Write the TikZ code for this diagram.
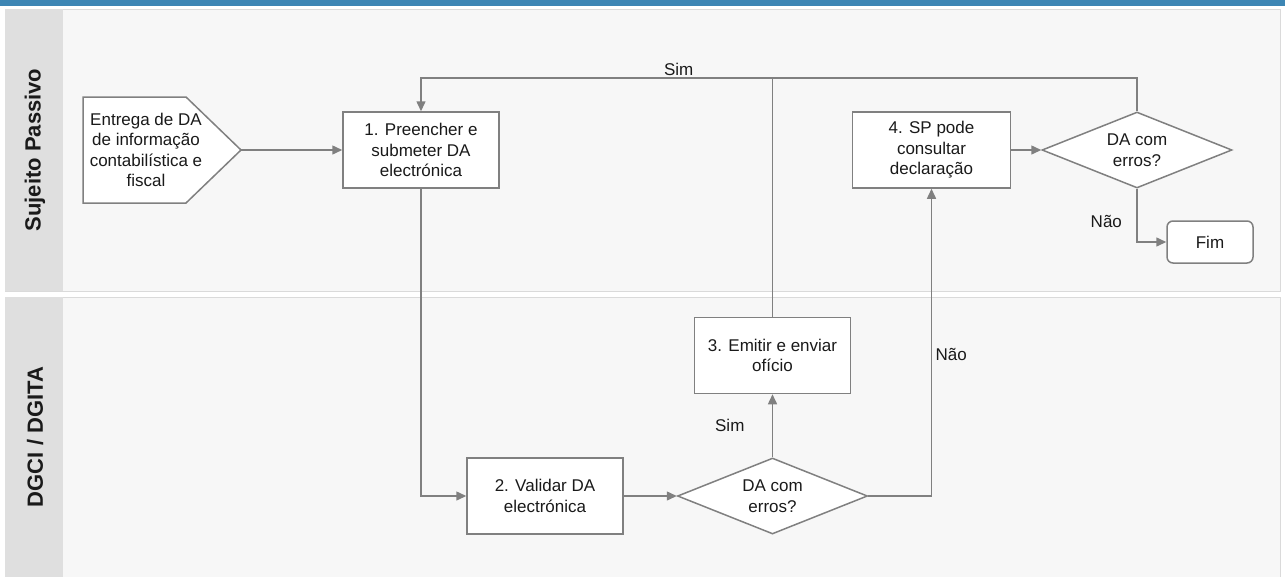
\documentclass[tikz,border=0pt]{standalone}
\usepackage{fontspec}
\setmainfont{Liberation Sans}
\usetikzlibrary{arrows.meta,positioning,shapes.geometric}

\definecolor{bar}{HTML}{3D86B4}
\definecolor{lanehead}{HTML}{DFDFDF}
\definecolor{lanebody}{HTML}{F7F7F7}
\definecolor{laneline}{HTML}{DADADA}
\definecolor{edge}{HTML}{808080}
\definecolor{ink}{HTML}{1A1A1A}

\begin{document}
\begin{tikzpicture}[x=1pt,y=-1pt,line width=1.5pt,
  every node/.style={font=\fontsize{17}{20.5}\selectfont,text=ink},
  box/.style={draw=edge,fill=white,align=center,minimum width=156pt,minimum height=76pt,inner sep=2pt},
  dec/.style={draw=edge,fill=white,diamond,aspect=2.5,align=center,minimum width=190pt,minimum height=76pt,inner sep=0pt},
  arr/.style={draw=edge,-{Triangle[length=10pt,width=9pt]}},
  lane/.style={font=\fontsize{22}{26}\selectfont\bfseries,rotate=90}]
  \useasboundingbox (0,0) rectangle (1285,576);

  % swimlanes
  \fill[bar] (0,0) rectangle (1285,6);
  \filldraw[fill=lanebody,draw=laneline,line width=1pt] (5,9) rectangle (1280,291);
  \fill[lanehead] (5,9) rectangle (63,291);
  \filldraw[fill=lanebody,draw=laneline,line width=1pt] (5,297) rectangle (1280,580);
  \fill[lanehead] (5,297) rectangle (63,580);
  \node(sp)  [lane] at (35,150) {Sujeito Passivo};
  \node(dg)  [lane] at (35,437) {DGCI / DGITA};

  % start event (off-page shape)
  \filldraw[draw=edge,fill=white] (83,97) -- (186,97) -- (241,150) -- (186,203) -- (83,203) -- cycle;
  \node(entrega) [align=center,inner sep=0pt] at (146,150) {Entrega de DA\\de informação\\contabilística e\\fiscal};
  \coordinate(tip) at (241,150);

  % steps
  \node(p1) [box] at (421,150) {1. Preencher e\\submeter DA\\electrónica};
  \node[right=352pt of p1](p4) [box,minimum width=158pt] {4. SP pode\\consultar\\declaração};
  \node[right=30pt of p4](d2)  [dec] {DA com\\erros?};
  \node(fim) [box,rounded corners=6pt,minimum width=86pt,minimum height=42pt] at (1210,242) {Fim};
  \node(p2) [box] at (545,496) {2. Validar DA\\electrónica};
  \node[right=53pt of p2](d1)  [dec] {DA com\\erros?};
  \node[above=63pt of d1](p3)  [box] {3. Emitir e enviar\\ofício};
  \coordinate(top) at (0,78);

  % flow
  \draw[arr] (tip) -- (p1);
  \draw[arr] (p1) |- (p2);
  \draw[arr] (p2) -- (d1);
  \draw[arr] (d1) -- node[midway,left=24pt](sim1) {Sim} (p3);
  \draw[arr] (d1) -| node[pos=.73,right](nao1) {Não} (p4);
  \draw[draw=edge] (p3) -- (p3 |- top);
  \draw[arr] (d2) -- (d2 |- top) -| node[pos=.32,above=-1.5pt](sim2) {Sim} (p1);
  \draw[arr] (p4) -- (d2);
  \draw[arr] (d2) |- node[pos=.31,left=11pt](nao2) {Não} (fim);
\end{tikzpicture}
\end{document}
